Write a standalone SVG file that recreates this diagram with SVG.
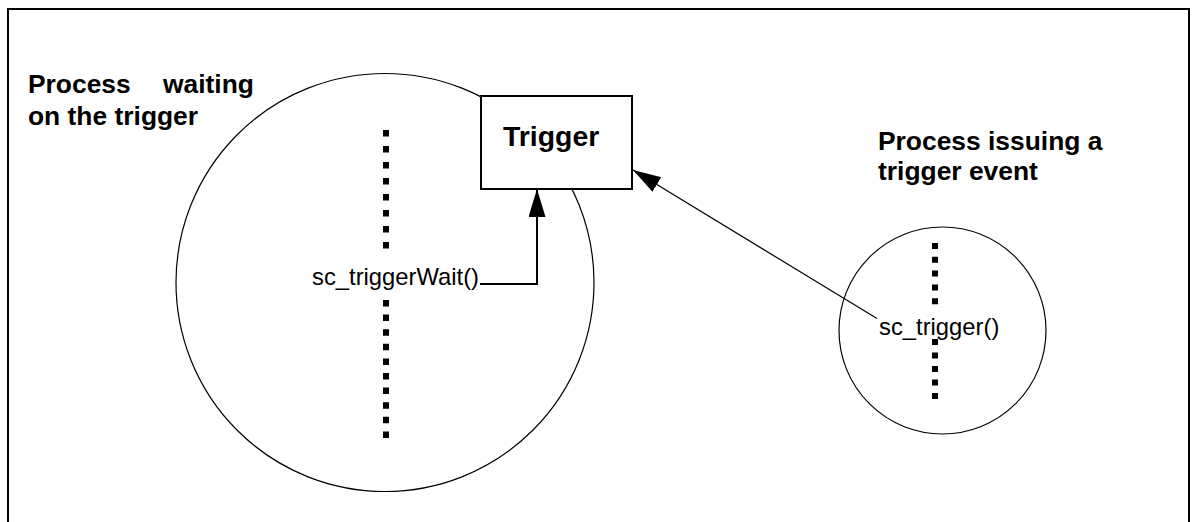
<svg xmlns="http://www.w3.org/2000/svg" width="1193" height="522" viewBox="0 0 1193 522">
<style>
.bold{font-family:"Liberation Sans",Arial,sans-serif;font-weight:bold;font-size:26.4px;fill:#000}
.reg{font-family:"Liberation Sans",Arial,sans-serif;font-size:23.8px;fill:#000}
.proc{fill:none;stroke:#000;stroke-width:1.2}
.dots{stroke:#000;stroke-width:6;fill:none}
.conn{fill:none;stroke:#000}
</style>
<defs>
<marker id="ah" markerUnits="userSpaceOnUse" markerWidth="30" markerHeight="18" refX="28" refY="8.5" orient="auto">
<path d="M0,0 L28,8.5 L0,17 z" fill="#000"/>
</marker>
</defs>
<rect width="1193" height="522" fill="#fff"/>
<path d="M8,522 V9 H1189 V522" fill="none" stroke="#000" stroke-width="2"/>
<g id="waiting-process">
<circle class="proc" cx="385" cy="282.5" r="209"/>
<line class="dots" x1="386" y1="130" x2="386" y2="249" stroke-dasharray="6.5 9.5"/>
<line class="dots" x1="386" y1="300" x2="386" y2="439" stroke-dasharray="6.5 8.1"/>
<text class="reg" x="312" y="285">sc_triggerWait()</text>
<text class="bold" x="28" y="92.5">Process</text>
<text class="bold" x="163" y="92.5">waiting</text>
<text class="bold" x="28" y="125">on the trigger</text>
</g>
<g id="issuing-process">
<circle class="proc" cx="942.5" cy="330.5" r="103.5"/>
<line class="dots" x1="935" y1="243" x2="935" y2="305" stroke-dasharray="6 7.8"/>
<line class="dots" x1="935" y1="339" x2="935" y2="400" stroke-dasharray="6 7.5"/>
<text class="reg" x="879" y="335">sc_trigger()</text>
<text class="bold" x="878" y="150">Process issuing a</text>
<text class="bold" x="878" y="180">trigger event</text>
</g>
<g id="trigger">
<rect x="481" y="96" width="151" height="93" fill="#fff" stroke="#000" stroke-width="2"/>
<text class="bold" x="503" y="146" style="font-size:28.4px">Trigger</text>
</g>
<g id="connectors">
<polyline class="conn" points="480,284 537,284 537,189" stroke-width="2" marker-end="url(#ah)"/>
<line class="conn" x1="877" y1="318.5" x2="633" y2="170" stroke-width="1.2" marker-end="url(#ah)"/>
</g>
</svg>
